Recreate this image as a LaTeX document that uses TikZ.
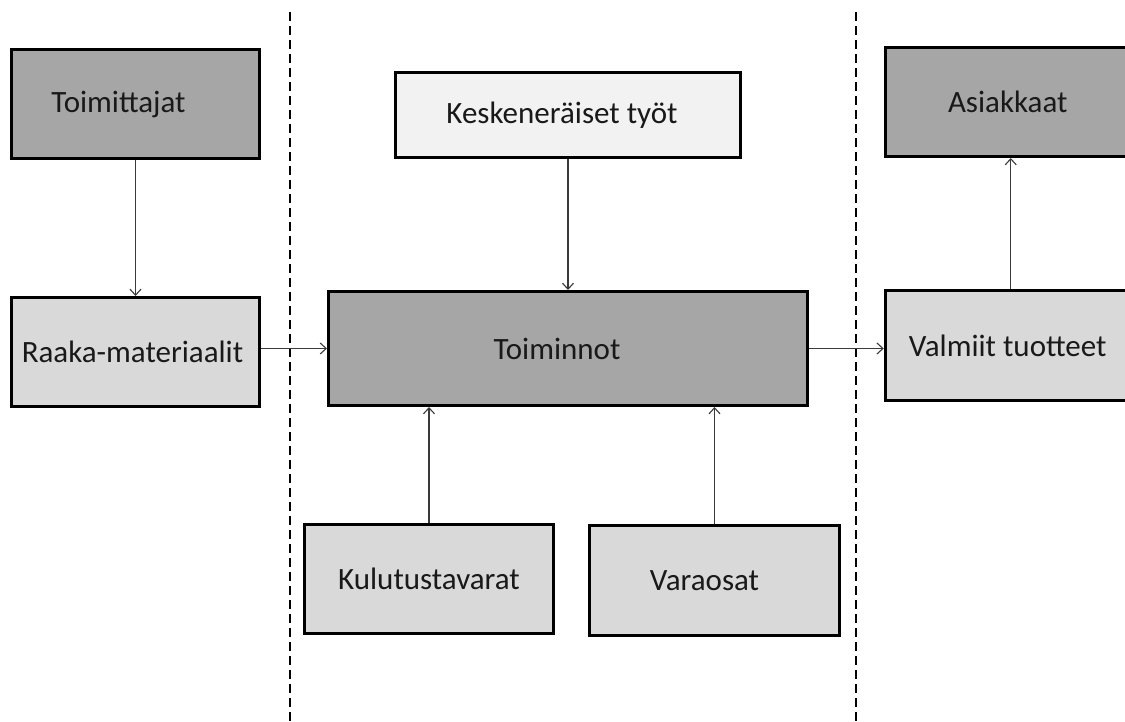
\documentclass[tikz,border=0pt]{standalone}
\usepackage{fontspec}
\setmainfont{Carlito}
\usetikzlibrary{arrows.meta}
\definecolor{darkbox}{HTML}{A6A6A6}
\definecolor{lightbox}{HTML}{D9D9D9}
\definecolor{paleb}{HTML}{F2F2F2}
\definecolor{arrowc}{HTML}{3A3A3A}
\tikzset{
  box/.style={draw=black, line width=3pt, rectangle, inner sep=0pt,
    font=\fontsize{31}{36}\selectfont, text=black!90},
  flow/.style={draw=arrowc, line width=1.1pt,
    -{Straight Barb[length=6pt,width=11pt,line width=1.1pt]}},
  divider/.style={draw=black, line width=1.1pt, dash pattern=on 9pt off 5pt}
}
\begin{document}
\begin{tikzpicture}[x=1pt,y=-1pt]
\useasboundingbox (0,0) rectangle (1125,721);
% dividers
\coordinate (d1t) at (290,12);
\coordinate (d1b) at (290,721);
\coordinate (d2t) at (856,12);
\coordinate (d2b) at (856,721);
\draw[divider] (d1t) -- (d1b);
\draw[divider] (d2t) -- (d2b);
% boxes
\node[box, fill=darkbox, minimum width=248pt, minimum height=109pt] (toim) at (135.5,104) {\hspace*{-34pt}Toimittajat};
\node[box, fill=lightbox, minimum width=248pt, minimum height=109pt] (raaka) at (135.5,352) {\hspace*{-6pt}Raaka-materiaalit};
\node[box, fill=paleb, minimum width=345pt, minimum height=85pt] (kesk) at (568,115) {\hspace*{-12pt}Keskeneräiset työt};
\node[box, fill=darkbox, minimum width=479pt, minimum height=114pt] (toimin) at (568,348.5) {\hspace*{-22pt}Toiminnot};
\node[box, fill=lightbox, minimum width=249pt, minimum height=109pt] (kulu) at (429,579) {Kulutustavarat};
\node[box, fill=lightbox, minimum width=250pt, minimum height=110pt] (vara) at (714.5,580.5) {\hspace*{-20pt}Varaosat};
\node[box, fill=darkbox, minimum width=245pt, minimum height=109pt] (asiak) at (1007.75,102) {Asiakkaat};
\node[box, fill=lightbox, minimum width=245pt, minimum height=110pt] (valm) at (1007.75,345.5) {Valmiit tuotteet};
% connectors
\draw[flow] (toim.south) -- (raaka.north);
\draw[flow] (raaka.east |- toimin.center) -- (toimin.west);
\draw[flow] (kesk.south) -- (toimin.north);
\draw[flow] (kulu.north) -- (kulu.north |- toimin.south);
\draw[flow] (vara.north) -- (vara.north |- toimin.south);
\draw[flow] (toimin.east) -- (toimin.east -| valm.west);
\draw[flow] ([xshift=3pt]valm.north) -- ([xshift=3pt]asiak.south);
\end{tikzpicture}
\end{document}
